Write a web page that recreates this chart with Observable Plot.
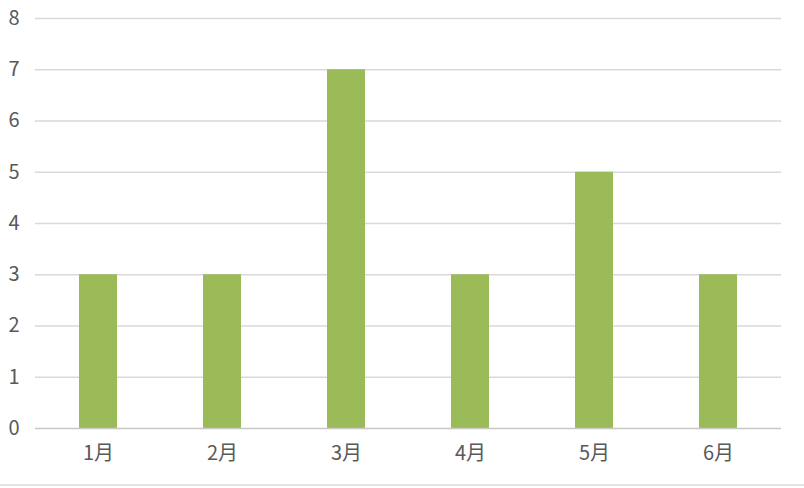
<!DOCTYPE html>
<html><head><meta charset="utf-8">
<script src="https://cdn.jsdelivr.net/npm/d3@7"></script>
<script src="https://cdn.jsdelivr.net/npm/@observablehq/plot@0.6"></script>
<style>
html,body{margin:0;padding:0;background:#fff;width:804px;height:488px;overflow:hidden;}
#chart{position:relative;}
#bottomline{position:absolute;left:0;top:484px;width:804px;height:0;border-top:2px solid #e3e3e3;}
</style></head>
<body><div id="chart"></div><div id="bottomline"></div>
<script>
const months = ["1月","2月","3月","4月","5月","6月"];
const values = [3,3,7,3,5,3];
const yTicks = [0,1,2,3,4,5,6,7,8];
const data = months.map((m,i)=>({month:m, value:values[i]}));
const plot = Plot.plot({
  width:804, height:488,
  marginLeft:35, marginRight:23, marginTop:18, marginBottom:60,
  style:{fontFamily:"'Noto Sans CJK SC', 'DejaVu Sans', sans-serif", fontSize:"20px", color:"#595959", background:"#fff"},
  x:{domain:months, paddingInner:0.69, paddingOuter:0.345, align:0.5, label:null},
  y:{domain:[0,8], label:null},
  marks:[
    Plot.gridY(yTicks.filter(d=>d>0),{stroke:"#d9d9d9", strokeOpacity:1, strokeWidth:1.5}),
    Plot.barY(data,{x:"month", y:"value", fill:"#9bbb59"}),
    Plot.ruleY([0],{stroke:"#c8c8c8", strokeWidth:1.5}),
    Plot.axisY(yTicks,{tickSize:0, tickPadding:0, textAnchor:"start", dx:-27, tickFormat:d3.format("d"), fill:"#595959", fontSize:20}),
    Plot.axisX({tickSize:0, tickPadding:17, fill:"#595959", fontSize:20})
  ]
});
document.getElementById("chart").appendChild(plot);
</script></body></html>
